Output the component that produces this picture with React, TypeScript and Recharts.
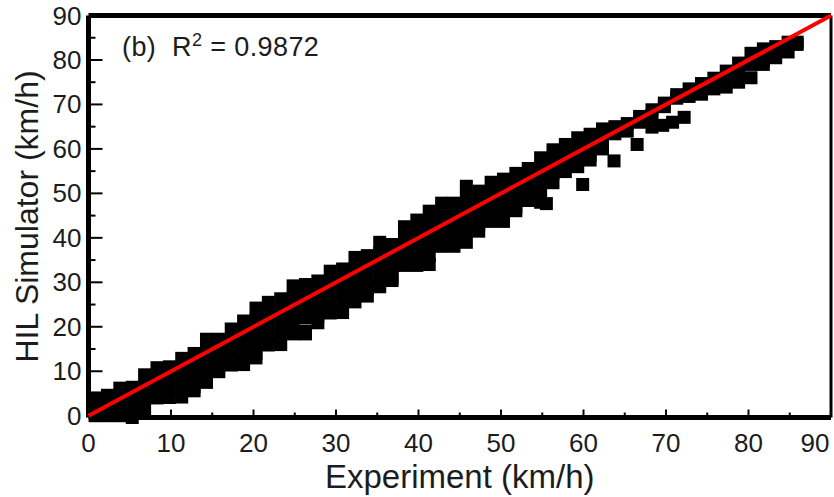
import React from 'react';
import { ScatterChart, Scatter, XAxis, YAxis, ReferenceLine, Label } from 'recharts';

// Experiment speed (km/h) of each column of samples, with the simulator speeds read at that column.
const bandColumns: [number, number[]][] = [
  [0.8, [4, 1.5, 0]],
  [2.3, [4.6, 2, 0]],
  [3.8, [6.2, 4, 1.5, 0]],
  [5.3, [6.4, 4, 1.5, -0.4]],
  [6.8, [9.2, 6.5, 4, 1.5]],
  [8.3, [10.8, 8.5, 6, 4]],
  [9.8, [11, 8.5, 6, 4.1]],
  [11.3, [12.9, 10.5, 8, 5.7, 4.2]],
  [12.8, [14, 11.5, 9, 6.5, 5.6]],
  [14.3, [17.2, 14.5, 12, 9.5, 7.5]],
  [15.8, [17.2, 14.5, 12, 9.9]],
  [17.3, [19.5, 17, 14.5, 12, 11.4]],
  [18.8, [21.3, 18.5, 16, 13.5, 11.5]],
  [20.3, [24.2, 21.5, 19, 16.5, 14, 13]],
  [21.8, [25.5, 23, 20.5, 18, 15.9]],
  [23.3, [26.3, 23.5, 21, 18.5, 16]],
  [24.8, [29.2, 26.5, 24, 21.5, 19, 18.4]],
  [26.3, [29.5, 27, 24.5, 22, 19, 18.4]],
  [27.8, [30.3, 27.5, 25, 22.5, 20.9]],
  [29.3, [32.5, 30, 27.5, 25, 23.1]],
  [30.8, [33, 30.5, 28, 25.5, 23.2]],
  [32.3, [35.6, 33, 30.5, 28, 25.6]],
  [33.8, [36, 33.5, 31, 28.5, 26.9]],
  [35.3, [39, 36.5, 34, 31.5, 29]],
  [36.8, [38.5, 36, 33.5, 31, 30.4]],
  [38.3, [42.5, 40, 37.5, 35, 33.8]],
  [39.8, [44, 41.5, 39, 36.5, 33.8]],
  [41.3, [46, 43.5, 41, 38.5, 36, 34]],
  [42.8, [47.8, 45, 42.5, 40, 38.1]],
  [44.3, [47.8, 45, 42.5, 40, 38.1]],
  [45.8, [51.6, 49, 46.5, 44, 41.5, 39]],
  [47.3, [50.5, 48, 45.5, 43, 41.5]],
  [48.8, [52.5, 50, 47.5, 45, 43.7]],
  [50.3, [53.2, 50.5, 48, 45.5, 43.7]],
  [51.8, [54.5, 52, 49.5, 47, 46.1]],
  [53.3, [55.6, 53, 50.5, 48.4]],
  [54.8, [58, 55.5, 53, 50.5, 48]],
  [56.3, [59.8, 57, 54.5, 52.4]],
  [57.8, [61, 58.5, 56, 54.9]],
  [59.3, [62.5, 60, 57.5, 56]],
  [60.8, [63.3, 61, 58.5, 57.5]],
  [62.3, [64.5, 62, 60]],
  [63.8, [65, 63.4]],
  [65.3, [65.7, 64]],
  [66.8, [67.3, 66]],
  [68.3, [68.8, 67.5]],
  [69.8, [70.3, 69.5]],
  [71.3, [72.2, 71.4]],
  [72.8, [73.5, 71.8]],
  [74.3, [74.7, 72.3]],
  [75.8, [75.9, 73.5]],
  [77.3, [77.5, 75, 73.9]],
  [78.8, [79.3, 77, 75]],
  [80.3, [81.5, 79, 76]],
  [81.8, [82.5, 80, 79]],
  [83.3, [83, 80.5]],
  [84.8, [84, 81.8]],
  [85.9, [84, 83.5]],
];

const outlierExperiment = [55.5, 59.9, 63.7, 66.5, 68.3, 69.6, 70.8, 72.2];
const outlierSimulator = [47.7, 52, 57.3, 61, 64.9, 65.3, 66, 67.1];

const fitExperiment = [0, 90];
const fitSimulator = [0, 90];

const axisTicks = [0, 5, 10, 15, 20, 25, 30, 35, 40, 45, 50, 55, 60, 65, 70, 75, 80, 85, 90];

const samples = [
  ...bandColumns.flatMap(([x, ys]) => ys.map((y) => ({ x, y }))),
  ...outlierExperiment.map((x, i) => ({ x, y: outlierSimulator[i] })),
];
const fitLine = fitExperiment.map((x, i) => ({ x, y: fitSimulator[i] }));

const FONT = '"Liberation Sans", Arial, sans-serif';
const INK = '#1c1c1c';

const XTick = (props: any) => {
  const { x, y, payload } = props;
  const v = payload.value as number;
  const major = v % 10 === 0;
  const nudge = v === 90 ? -16 : 0;
  return (
    <g>
      {v > 0 && v < 90 && <line x1={x} x2={x} y1={y} y2={y - (major ? 8 : 5)} stroke="#000" strokeWidth={2} />}
      {major && (
        <text x={x + nudge} y={y + 34} textAnchor="middle" fontSize={26} fontFamily={FONT} fill={INK}>
          {v}
        </text>
      )}
    </g>
  );
};

const YTick = (props: any) => {
  const { x, y, payload } = props;
  const v = payload.value as number;
  const major = v % 10 === 0;
  return (
    <g>
      {v > 0 && v < 90 && <line x1={x} x2={x + (major ? 14 : 7)} y1={y} y2={y} stroke="#000" strokeWidth={2} />}
      {major && (
        <text x={x - 7} y={y + 9} textAnchor="end" fontSize={26} fontFamily={FONT} fill={INK}>
          {v}
        </text>
      )}
    </g>
  );
};

const SquareMark = (props: any) => (
  <rect x={props.cx - 6.5} y={props.cy - 6.5} width={13} height={13} fill="#000" />
);

export default function App() {
  return (
    <div style={{ position: 'absolute', left: 0, top: 0, width: 834, height: 497, background: '#fff' }}>
      <ScatterChart width={834} height={497} margin={{ top: 15.5, right: 3, bottom: 0, left: 0 }}>
        <XAxis
          type="number"
          dataKey="x"
          domain={[0, 90]}
          ticks={axisTicks}
          interval={0}
          height={79.5}
          tickSize={0}
          tickMargin={0}
          tickLine={false}
          tick={<XTick />}
          axisLine={{ stroke: '#000', strokeWidth: 5 }}
        >
          <Label value="Experiment (km/h)" position="insideBottom" offset={9} fontSize={33} fontFamily={FONT} fill={INK} />
        </XAxis>
        <YAxis
          type="number"
          dataKey="y"
          domain={[0, 90]}
          ticks={axisTicks}
          interval={0}
          width={88.5}
          tickSize={0}
          tickMargin={0}
          tickLine={false}
          tick={<YTick />}
          axisLine={{ stroke: '#000', strokeWidth: 5 }}
        >
          <Label value="HIL Simulator (km/h)" angle={-90} position="insideLeft" offset={27} fontSize={32} fontFamily={FONT} fill={INK} style={{ textAnchor: 'middle' }} />
        </YAxis>
        <ReferenceLine y={90} stroke="#000" strokeWidth={5} />
        <ReferenceLine x={90} stroke="#000" strokeWidth={3} />
        <Scatter data={samples} shape={<SquareMark />} fill="#000" isAnimationActive={false} />
        <Scatter data={fitLine} line={{ stroke: '#ff0000', strokeWidth: 4 }} shape={() => null} isAnimationActive={false} />
        <text x={122} y={56} fontSize={27} fontFamily={FONT} fill={INK} xmlSpace="preserve" letterSpacing={0.4}>
          (b)  R<tspan fontSize={18} dy={-10}>2</tspan><tspan dy={10}> = 0.9872</tspan>
        </text>
      </ScatterChart>
    </div>
  );
}
